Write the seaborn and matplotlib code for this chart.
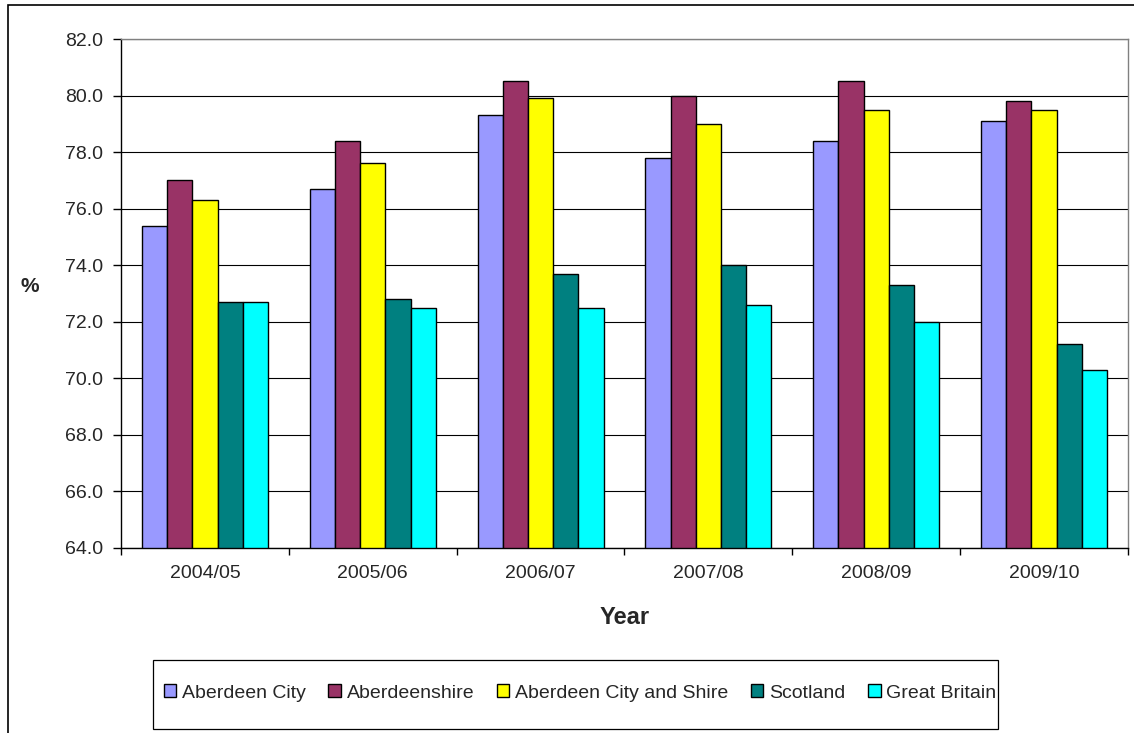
import matplotlib
matplotlib.use("Agg")
import matplotlib.pyplot as plt
from matplotlib.patches import Patch, Rectangle
import seaborn as sns
import pandas as pd

years = ["2004/05", "2005/06", "2006/07", "2007/08", "2008/09", "2009/10"]
aberdeen_city = [75.4, 76.7, 79.3, 77.8, 78.4, 79.1]
aberdeenshire = [77.0, 78.4, 80.5, 80.0, 80.5, 79.8]
city_and_shire = [76.3, 77.6, 79.9, 79.0, 79.5, 79.5]
scotland = [72.7, 72.8, 73.7, 74.0, 73.3, 71.2]
great_britain = [72.7, 72.5, 72.5, 72.6, 72.0, 70.3]

series_names = ["Aberdeen City", "Aberdeenshire", "Aberdeen City and Shire",
                "Scotland", "Great Britain"]
series_values = [aberdeen_city, aberdeenshire, city_and_shire, scotland, great_britain]
colors = ["#9999FF", "#993366", "#FFFF00", "#008080", "#00FFFF"]
y_ticks = [64, 66, 68, 70, 72, 74, 76, 78, 80, 82]

rows = []
for name, vals in zip(series_names, series_values):
    for yr, v in zip(years, vals):
        rows.append({"Year": yr, "Area": name, "Value": v})
df = pd.DataFrame(rows)

sns.set_style("white")
plt.rcParams["font.family"] = ["Liberation Sans", "DejaVu Sans"]

W, H = 1134, 733
fig = plt.figure(figsize=(W / 100, H / 100), dpi=100)
# plot area in pixel bounds
L, R, T, B = 121, 1128, 39, 548
ax = fig.add_axes([L / W, 1 - B / H, (R - L) / W, (B - T) / H])

sns.barplot(data=df, x="Year", y="Value", hue="Area", order=years,
            hue_order=series_names, palette=colors, width=0.75,
            edgecolor="black", linewidth=1.0, saturation=1, ax=ax,
            errorbar=None, legend=False)

ax.set_ylim(64, 82)
ax.set_xlim(-0.5, len(years) - 0.5)
ax.set_yticks(y_ticks)
ax.set_yticklabels([f"{t:.1f}" for t in y_ticks])
ax.yaxis.grid(True, color="black", linewidth=0.8)
ax.set_axisbelow(True)

# category ticks sit between the groups; labels stay centred
ax.set_xticks([i - 0.5 for i in range(len(years) + 1)], minor=False)
ax.set_xticklabels([])
ax.set_xticks(range(len(years)), minor=True)
ax.set_xticklabels(years, minor=True)
ax.tick_params(axis="x", which="major", direction="out", length=5, width=1,
               color="black", bottom=True)
ax.tick_params(axis="x", which="minor", length=0, pad=12, labelsize=14)
ax.tick_params(axis="y", direction="out", length=6, width=1, color="black",
               left=True, pad=7, labelsize=14)

for side in ["left", "bottom"]:
    ax.spines[side].set_color("black")
    ax.spines[side].set_linewidth(1)
for side in ["top", "right"]:
    ax.spines[side].set_visible(True)
    ax.spines[side].set_color("#808080")
    ax.spines[side].set_linewidth(1)

ax.set_xlabel("Year", fontsize=17, fontweight="bold")
ax.xaxis.set_label_coords(0.5, (B - 617) / (B - T))
ax.xaxis.label.set_va("center")
ax.set_ylabel("%", fontsize=15, fontweight="bold", rotation=0)
ax.yaxis.set_label_coords((30 - L) / (R - L), (B - 286) / (B - T))
ax.yaxis.label.set_va("center")
ax.yaxis.label.set_ha("center")

# legend frame and entries
fig.patches.append(Rectangle((153 / W, 1 - 729 / H), (998 - 153) / W, (729 - 660) / H,
                             transform=fig.transFigure, fill=False,
                             edgecolor="black", linewidth=0.9, zorder=5))
handles = [Patch(facecolor=c, edgecolor="black", linewidth=1) for c in colors]
fig.legend(handles, series_names, loc="center", ncol=5, frameon=False,
           bbox_to_anchor=(580 / W, 1 - 693 / H), fontsize=14,
           handlelength=0.65, handleheight=0.65, handletextpad=0.3,
           columnspacing=1.15, borderpad=0)

# outer chart border
fig.patches.append(Rectangle((8 / W, -0.1), 1.2, (733 - 5) / H + 0.1,
                             transform=fig.transFigure, fill=False,
                             edgecolor="black", linewidth=1.2, zorder=5))

fig.savefig("out.png", dpi=100)
